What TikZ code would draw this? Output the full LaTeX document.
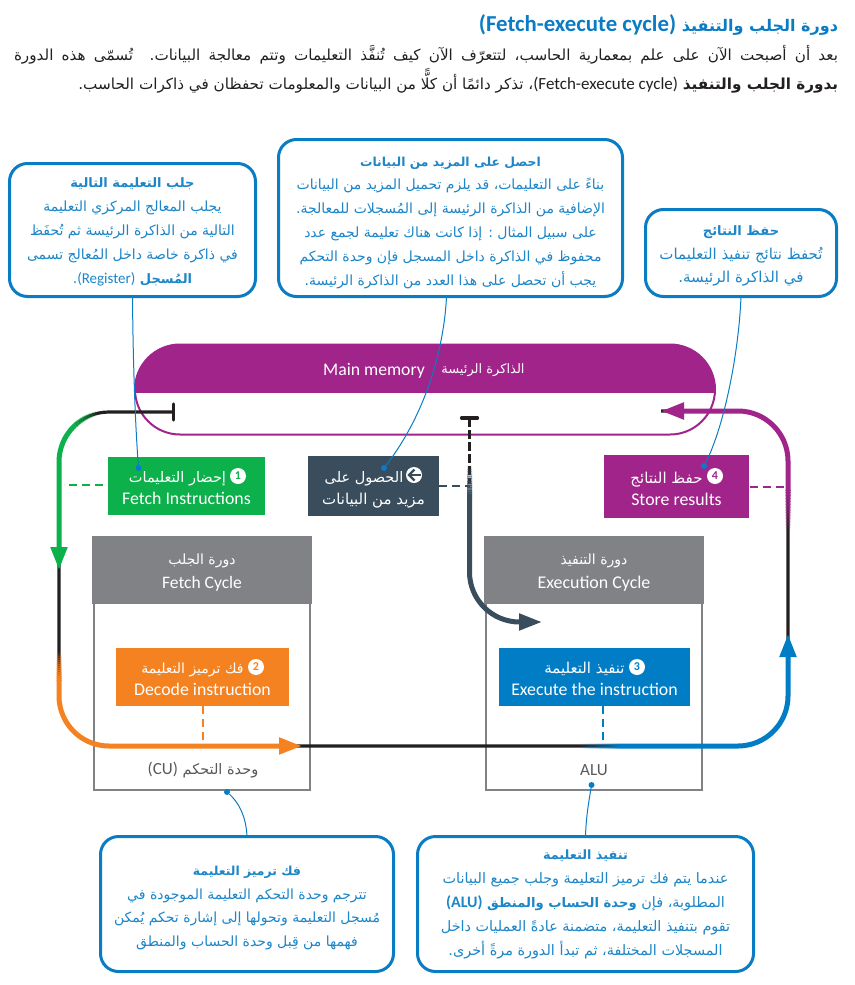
\documentclass[tikz,border=0pt]{standalone}
\usepackage{fontspec}
\usetikzlibrary{arrows.meta,calc}
\TeXXeTstate=1
\setmainfont{Carlito}
\newfontfamily\arabicfont[Script=Arabic]{DejaVu Sans}
\definecolor{cblue}{HTML}{0A7CC4}
\definecolor{ctext}{HTML}{1C86C8}
\definecolor{cpurple}{HTML}{A0248A}
\definecolor{cgreen}{HTML}{0DB14B}
\definecolor{cslate}{HTML}{3A4D5C}
\definecolor{corange}{HTML}{F58220}
\definecolor{cexec}{HTML}{007DC5}
\definecolor{cgrey}{HTML}{808285}
\definecolor{clabel}{HTML}{58595B}
\definecolor{cblack}{HTML}{231F20}
\newcommand\ar[1]{{\arabicfont\beginR #1\endR}}
\newcommand\lat[1]{\beginL{\rmfamily #1}\endL}
\newcommand\tops[1]{\rule{0pt}{#1pt}}
\newcommand\bots[1]{\rule[-#1pt]{0pt}{#1pt}}
\newcommand\fadeY[5]{\foreach \i in {1,...,14}{%
  \pgfmathsetmacro\ya{#3+(#4-#3)*(\i-1)/14}\pgfmathsetmacro\yb{#3+(#4-#3)*\i/14}\pgfmathsetmacro\op{\i/14}%
  \begin{scope}\clip (0,\ya) rectangle (854,\yb);\draw[draw=#1,line width=#2,draw opacity=\op] #5;\end{scope}}}
\newcommand\fadeX[5]{\foreach \i in {1,...,14}{%
  \pgfmathsetmacro\xa{#3+(#4-#3)*(\i-1)/14}\pgfmathsetmacro\xb{#3+(#4-#3)*\i/14}\pgfmathsetmacro\op{\i/14}%
  \begin{scope}\clip (\xa,0) rectangle (\xb,985);\draw[draw=#1,line width=#2,draw opacity=\op] #5;\end{scope}}}
\tikzset{
  x=1pt,y=-1pt,
  callout/.style={draw=cblue,line width=3pt,rounded corners=18pt,fill=white,text=ctext,align=center,inner sep=0pt,outer sep=0pt,font=\fontsize{#1}{23.8}\selectfont},
  stepbox/.style={fill=#1,text=white,align=center,inner sep=0pt,outer sep=0pt,font=\fontsize{15}{22}\selectfont},
  cyclehead/.style={fill=cgrey,text=white,align=center,inner sep=0pt,outer sep=0pt,minimum width=220pt,minimum height=68pt,font=\fontsize{14}{24}\selectfont},
  cyclebody/.style={draw=cgrey,line width=2pt,inner sep=0pt,outer sep=0pt,minimum width=216pt,minimum height=190pt},
  unitlabel/.style={text=clabel,inner sep=0pt,font=\fontsize{14.5}{18}\selectfont},
  numdot/.style={circle,fill=white,inner sep=0pt,minimum size=16pt,text=#1,font=\bfseries\fontsize{12}{12}\selectfont},
  leaderdot/.style={circle,fill=cblue,inner sep=0pt,minimum size=6pt},
  leader/.style={draw=cblue,line width=1pt},
  linkdash/.style={draw=#1,line width=2pt,dash pattern=on 8pt off 5pt},
  blackline/.style={draw=cblack,line width=3.2pt},
  bigtip/.style={-{Triangle[length=23pt,width=16pt]}},
  para/.style={inner sep=0pt,outer sep=0pt,text=cblack,font=\fontsize{15.2}{16}\selectfont},
}
\begin{document}
\begin{tikzpicture}
\useasboundingbox (0,0) rectangle (854,985);
% heading
\node[para,anchor=east,text=cblue,font=\bfseries\fontsize{16}{18}\selectfont] (title) at (838,25) {\ar{دورة الجلب والتنفيذ \lat{\fontsize{22.8}{18}\selectfont(Fetch-execute cycle)}}};
\node[para,anchor=east] (introA) at (838,55) {\hbox to 824pt{\ar{بعد أن أصبحت الآن على علم بمعمارية الحاسب، لتتعرّف الآن كيف تُنفَّذ التعليمات وتتم معالجة البيانات. تُسمّى هذه الدورة}}};
\node[para,anchor=east] (introB) at (838,81) {\ar{\textbf{بدورة الجلب والتنفيذ} \lat{\fontsize{17}{16}\selectfont(Fetch-execute cycle)}، تذكر دائمًا أن كلًّا من البيانات والمعلومات تحفظان في ذاكرات الحاسب.}};
% callouts
\node[callout=14,minimum width=246pt,minimum height=133pt] (callA) at (132.5,230) {\tops{16}\ar{\fontsize{13}{23.8}\selectfont\bfseries جلب التعليمة التالية}\\\ar{يجلب المعالج المركزي التعليمة}\\\ar{التالية من الذاكرة الرئيسة ثم تُحفَظ}\\\ar{في ذاكرة خاصة داخل المُعالج تسمى}\\\ar{{\fontsize{13}{23.8}\selectfont\bfseries المُسجل} \lat{\fontsize{15}{16}\selectfont(Register)}.}\bots{5}};
\node[callout=14,minimum width=344pt,minimum height=157pt] (callB) at (450.5,218) {\tops{20}\ar{\fontsize{12.4}{23.8}\selectfont\bfseries احصل على المزيد من البيانات}\\\ar{بناءً على التعليمات، قد يلزم تحميل المزيد من البيانات}\\\ar{الإضافية من الذاكرة الرئيسة إلى المُسجلات للمعالجة.}\\\ar{على سبيل المثال : إذا كانت هناك تعليمة لجمع عدد}\\\ar{محفوظ في الذاكرة داخل المسجل فإن وحدة التحكم}\\\ar{يجب أن تحصل على هذا العدد من الذاكرة الرئيسة.}\bots{5}};
\node[callout=15,minimum width=191pt,minimum height=87pt] (callC) at (741,253) {\tops{17}\ar{\fontsize{13}{23.8}\selectfont\bfseries حفظ النتائج}\\\ar{تُحفظ نتائج تنفيذ التعليمات}\\\ar{في الذاكرة الرئيسة.}\bots{5}};
\node[callout=14,minimum width=293pt,minimum height=135pt] (callD) at (247,904) {\tops{19}\ar{\fontsize{12.4}{23.8}\selectfont\bfseries فك ترميز التعليمة}\\\ar{تترجم وحدة التحكم التعليمة الموجودة في}\\\ar{مُسجل التعليمة وتحولها إلى إشارة تحكم يُمكن}\\\ar{فهمها من قِبل وحدة الحساب والمنطق}\bots{5}};
\node[callout=14.4,minimum width=336pt,minimum height=135pt] (callE) at (585.5,904) {\tops{12}\ar{\fontsize{12.8}{23.8}\selectfont\bfseries تنفيذ التعليمة}\\\ar{عندما يتم فك ترميز التعليمة وجلب جميع البيانات}\\\ar{المطلوبة، فإن {\fontsize{13.2}{23.8}\selectfont\bfseries وحدة الحساب والمنطق \lat{\fontsize{16}{16}\selectfont(ALU)}}}\\\ar{تقوم بتنفيذ التعليمة، متضمنة عادةً العمليات داخل}\\\ar{المسجلات المختلفة، ثم تبدأ الدورة مرةً أخرى.}\bots{5}};
% main memory
\node[draw=cpurple,line width=2pt,rounded corners=45pt,minimum width=580pt,minimum height=90pt,inner sep=0pt,outer sep=0pt] (mem) at (425,389.5) {};
\begin{scope}
\clip (130,340) rectangle (720,392);
\fill[cpurple,rounded corners=45pt] (135,344) rectangle (715,435);
\end{scope}
\node[text=white,inner sep=0pt,font=\fontsize{17.7}{18}\selectfont] (memEn) at (374,370.5) {Main memory};
\node[text=white,inner sep=0pt,font=\fontsize{13}{18}\selectfont] (memAr) at (483,370) {\ar{الذاكرة الرئيسة}};
% cycle boxes
\node[cyclebody] (fetchBody) at (202.2,695) {};
\node[cyclebody] (execBody) at (594.4,695) {};
\node[cyclehead] (fetchHead) at (202,570) {\tops{18}\ar{دورة الجلب}\\\fontsize{17.5}{24}\selectfont Fetch Cycle\bots{6}};
\node[cyclehead] (execHead) at (594,570) {\tops{18}\ar{دورة التنفيذ}\\\fontsize{17.9}{24}\selectfont Execution Cycle\bots{6}};
\node[unitlabel] (cuLabel) at (203,770) {\ar{وحدة التحكم \lat{\fontsize{17}{18}\selectfont(CU)}}};
\node[unitlabel,font=\fontsize{17}{18}\selectfont] (aluLabel) at (594,770) {ALU};
% step boxes
\node[stepbox=cgreen,minimum width=157pt,minimum height=58pt] (fetch) at (186.5,486) {\tops{20}\ar{\fontsize{14.5}{22}\selectfont\kern18pt إحضار التعليمات}\\\fontsize{17.8}{22}\selectfont Fetch Instructions\bots{5}};
\node[stepbox=cslate,minimum width=131pt,minimum height=60pt] (more) at (373.5,486) {\tops{20}\ar{\fontsize{14.5}{22}\selectfont\kern19pt الحصول على}\\\ar{مزيد من البيانات}\bots{5}};
\node[stepbox=cpurple,minimum width=145pt,minimum height=63pt] (store) at (676.5,486.5) {\tops{20}\ar{\kern20pt حفظ النتائج}\\\fontsize{17.8}{22}\selectfont Store results\bots{5}};
\node[stepbox=corange,minimum width=173pt,minimum height=58pt] (decode) at (202.5,677) {\tops{19}\ar{\fontsize{14}{22}\selectfont\kern20pt فك ترميز التعليمة}\\\fontsize{17.8}{22}\selectfont Decode instruction\bots{5}};
\node[stepbox=cexec,minimum width=191pt,minimum height=58pt] (execute) at (594.5,677) {\tops{19}\ar{\kern20pt تنفيذ التعليمة}\\\fontsize{17.8}{22}\selectfont Execute the instruction\bots{5}};
\node[numdot=cgreen] (num1) at (238,476) {1};
\node[numdot=cslate] (numArrow) at (414,475) {};
\node[numdot=corange] (num2) at (256,667) {2};
\node[numdot=cexec] (num3) at (637,667) {3};
\node[numdot=cpurple] (num4) at (715,476) {4};
\draw[cslate,line width=2pt] ($(numArrow)+(6.5,0)$) -- ($(numArrow)+(-4,0)$);
\draw[cslate,line width=2.2pt] ($(numArrow)+(0.5,-5.5)$) -- ($(numArrow)+(-5,0)$) -- ($(numArrow)+(0.5,5.5)$);
% loop coordinates
\coordinate (fetchStop) at (173.5,412);
\coordinate (execStop) at (469.5,418);
\coordinate (loopTL) at (59,412);
\coordinate (loopBL) at (59,746);
\coordinate (loopBR) at (788,746);
\coordinate (loopTR) at (788,411);
\coordinate (greenTip) at (59,570);
\coordinate (orangeStart) at (59,650);
\coordinate (orangeTip) at (302,746);
\coordinate (blueStart) at (570,746);
\coordinate (blueTip) at (788,634);
\coordinate (purpleStart) at (788,535);
\coordinate (storeTip) at (661,411);
\coordinate (slateStart) at (469.5,460);
\coordinate (slateBend) at (469.5,622);
\coordinate (slateTip) at (542,622);
% dashed links
\draw[linkdash=cgreen] (fetch.west) ++(-5,-1) -- ($(loopTL|-fetch.west)+(5,-1)$);
\draw[linkdash=cslate] (more.east) -- (slateStart|-more.east);
\draw[linkdash=cpurple] (store.east) ++(1,0) -- (loopTR|-store.east);
\draw[linkdash=corange] (decode.south) -- (decode.south|-loopBL);
\draw[linkdash=cexec] ([xshift=8.5pt]execute.south) -- ([xshift=8.5pt]execute.south|-loopBL);
% black loop
\draw[blackline,rounded corners=50pt] (fetchStop) -- (loopTL) -- (loopBL) -- (loopBR) -- (loopTR) -- (storeTip);
\draw[blackline,line cap=round] ($(fetchStop)+(0,-8)$) -- ($(fetchStop)+(0,8)$);
\draw[blackline,line width=3pt,dash pattern=on 9pt off 3pt] (execStop) -- ($(execStop)+(0,66)$);
\draw[blackline,line cap=round] ($(execStop)+(-8,0)$) -- ($(execStop)+(8,0)$);
% green
\fadeX{cgreen}{5pt}{97}{75}{[rounded corners=50pt] (fetchStop) -- (loopTL) -- (greenTip)}
\begin{scope}\clip (0,300) rectangle (75,600);
\draw[draw=cgreen,line width=5pt,bigtip,rounded corners=50pt] (fetchStop) -- (loopTL) -- (greenTip);
\end{scope}
% orange
\fadeY{corange}{5pt}{653}{680}{[rounded corners=50pt] (orangeStart) -- (loopBL) -- (orangeTip)}
\begin{scope}\clip (0,680) rectangle (330,780);
\draw[draw=corange,line width=5pt,bigtip,rounded corners=50pt] (orangeStart) -- (loopBL) -- (orangeTip);
\end{scope}
% blue
\fadeX{cexec}{5pt}{580}{623}{[rounded corners=50pt] (blueStart) -- (loopBR) -- (blueTip)}
\begin{scope}\clip (623,620) rectangle (810,780);
\draw[draw=cexec,line width=5pt,bigtip,rounded corners=50pt] (blueStart) -- (loopBR) -- (blueTip);
\end{scope}
% purple
\fadeY{cpurple}{5pt}{530}{490}{[rounded corners=50pt] (purpleStart) -- (loopTR) -- (storeTip)}
\begin{scope}\clip (640,390) rectangle (810,490);
\draw[draw=cpurple,line width=5pt,bigtip,rounded corners=50pt] (purpleStart) -- (loopTR) -- (storeTip);
\end{scope}
% slate
\fadeY{cslate}{5pt}{465}{497}{[rounded corners=50pt] (slateStart) -- (slateBend) -- (slateTip)}
\begin{scope}\clip (450,497) rectangle (560,640);
\draw[draw=cslate,line width=5pt,bigtip,rounded corners=50pt] (slateStart) -- (slateBend) -- (slateTip);
\end{scope}
% leaders
\node[leaderdot] (dotA) at (138.5,468) {};
\node[leaderdot] (dotB) at (384,468) {};
\node[leaderdot] (dotC) at (704,466) {};
\node[leaderdot] (dotD) at (227,792) {};
\node[leaderdot] (dotE) at (591.5,785) {};
\draw[leader] (callA.south) .. controls (133,360) and (135,420) .. (dotA);
\draw[leader] ([xshift=-4pt]callB.south) .. controls (444,350) and (425,415) .. (dotB);
\draw[leader] (callC.south) .. controls (739,350) and (725,425) .. (dotC);
\draw[leader] (callD.north) .. controls (246,815) and (238,802) .. (dotD);
\draw[leader] (callE.north) .. controls (586,815) and (590,795) .. (dotE);
\end{tikzpicture}
\end{document}
